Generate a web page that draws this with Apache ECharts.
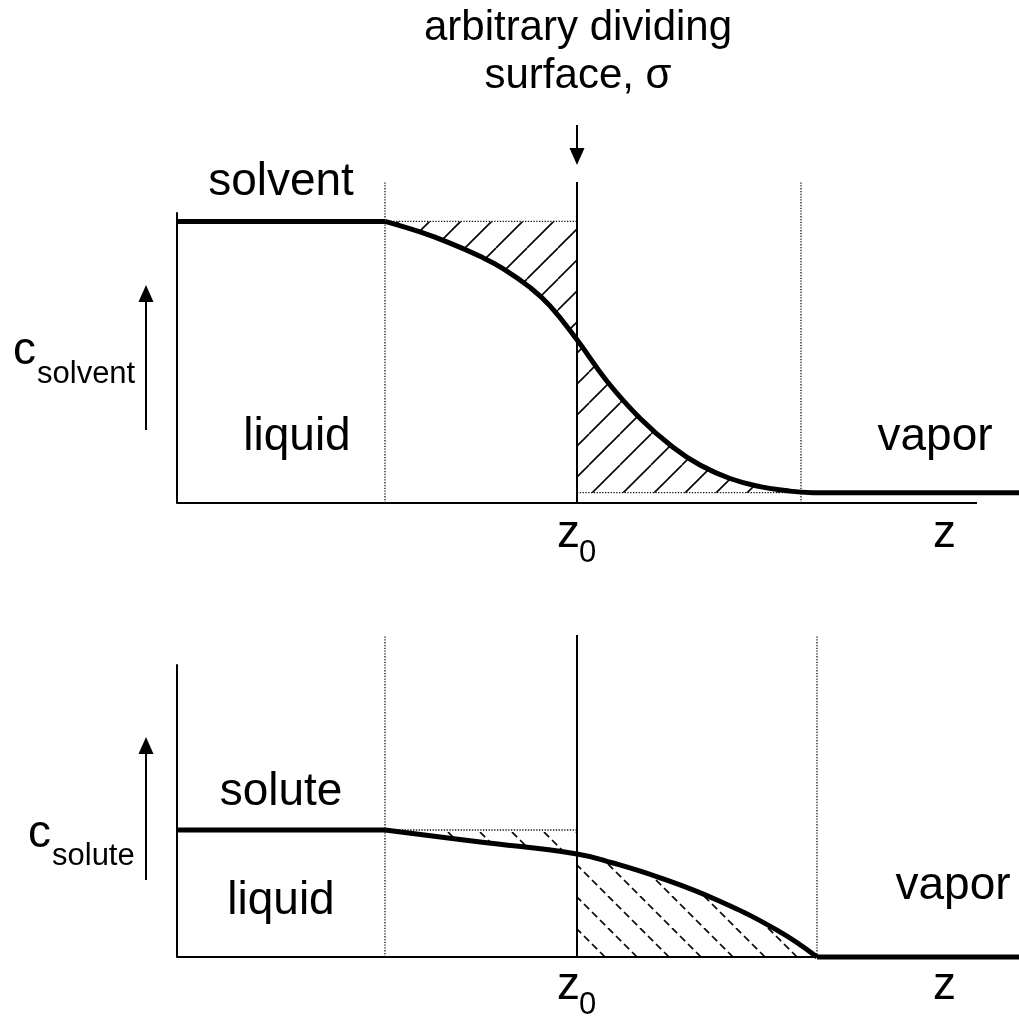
<!DOCTYPE html>
<html><head><meta charset="utf-8">
<script src="https://cdn.jsdelivr.net/npm/echarts@6/dist/echarts.min.js"></script>
<style>html,body{margin:0;padding:0;background:#fff}#c{width:1019px;height:1016px}</style>
</head><body><div id="c"></div>
<script>
// ---- data (z in arbitrary units, concentration in % of axis height) ----
const solventZ = [26, 30.375, 34.125, 37.875, 40.75, 44.125, 46.625, 50, 53.75, 57.875, 62, 65.375, 69.125, 72.875, 76.625, 79.5];
const solventC = [97.1, 93.45, 89.62, 85.07, 80.86, 74.34, 68.0, 56.28, 42.0, 29.24, 19.24, 13.1, 8.45, 5.66, 4.1, 3.55];
const solventLiquid = 97.1;
const solventVapor = 3.55;
const solventInterface = [26, 78];

const soluteZ = [26, 37.9, 50, 54.5, 60.4, 67.5, 75, 80];
const soluteC = [43.5, 39.4, 35.3, 32.2, 27.1, 19.5, 9.2, 0];
const soluteLiquid = 43.5;
const soluteVapor = 0;
const soluteInterface = [26, 80];

const z0 = 50;
const axisEnd = 100;
const zEnd = 105.25;
const lineTop = [110.7, 110.3];

function hatch(size, dir, dashed) {
  const cv = document.createElement('canvas');
  cv.width = size; cv.height = size;
  const g = cv.getContext('2d');
  g.strokeStyle = '#000'; g.lineWidth = 1.6;
  if (dashed) { const d = size * Math.SQRT2 / 4; g.setLineDash([d * 0.64, d * 0.36]); }
  for (let k = -1; k <= 1; k++) {
    g.beginPath();
    if (dir === '/') { g.moveTo(k * size, size); g.lineTo(k * size + size, 0); }
    else { g.moveTo(k * size, 0); g.lineTo(k * size + size, size); }
    g.stroke();
  }
  return cv;
}
const patSolid = { image: hatch(31, '/', false), repeat: 'repeat' };
const patDash = { image: hatch(32, '\\', true), repeat: 'repeat' };

function pairs(xs, ys, from, to) {
  const out = [];
  for (let i = 0; i < xs.length; i++) if (xs[i] >= from && xs[i] <= to) out.push([xs[i], ys[i]]);
  return out;
}

const FONT = '"Liberation Sans", Arial, Helvetica, sans-serif';
const black = '#000';
const dotted = { color: '#111', width: 1.3, type: [1.3, 1.5] };
const SMOOTH = 0.45;

function panelSeries(gi, zs, cs, liquid, vapor, iface, topY, pat) {
  const base = { type: 'line', xAxisIndex: gi, yAxisIndex: gi, symbol: 'none', clip: false, silent: true, animation: false };
  const s = [];
  // hatched excess areas
  s.push(Object.assign({}, base, {
    data: pairs(zs, cs, iface[0], z0), smooth: SMOOTH,
    lineStyle: { width: 0 }, areaStyle: { color: pat, opacity: 1, origin: liquid }
  }));
  s.push(Object.assign({}, base, {
    data: pairs(zs, cs, z0, 200), smooth: SMOOTH,
    lineStyle: { width: 0 }, areaStyle: { color: pat, opacity: 1, origin: vapor }
  }));
  // x axis baseline
  s.push(Object.assign({}, base, { data: [[0, 0], [axisEnd, 0]], lineStyle: { color: black, width: 2 } }));
  // dotted guide lines
  s.push(Object.assign({}, base, { data: [[iface[0], 0], [iface[0], topY]], lineStyle: dotted }));
  s.push(Object.assign({}, base, { data: [[iface[1], 0], [iface[1], topY]], lineStyle: dotted }));
  s.push(Object.assign({}, base, { data: [[iface[0], liquid], [z0, liquid]], lineStyle: dotted }));
  if (vapor > 0) s.push(Object.assign({}, base, { data: [[z0, vapor], [iface[1], vapor]], lineStyle: dotted }));
  // dividing surface
  s.push(Object.assign({}, base, { data: [[z0, 0], [z0, topY]], lineStyle: { color: black, width: 2 } }));
  // concentration profile
  s.push(Object.assign({}, base, { data: [[0, liquid], [zs[0], liquid]], lineStyle: { color: black, width: 5 } }));
  s.push(Object.assign({}, base, { data: zs.map((z, i) => [z, cs[i]]), smooth: SMOOTH, lineStyle: { color: black, width: 5 } }));
  s.push(Object.assign({}, base, { data: [[zs[zs.length - 1], vapor], [zEnd, vapor]], lineStyle: { color: black, width: 5 } }));
  return s;
}

const xCommon = { type: 'value', min: 0, max: zEnd, axisTick: { show: false }, axisLabel: { show: false }, splitLine: { show: false },
  axisLine: { show: false } };
const yCommon = { type: 'value', min: 0, max: 100, axisTick: { show: false }, axisLabel: { show: false }, splitLine: { show: false },
  axisLine: { show: true, lineStyle: { color: black, width: 2 } } };

function txt(text, x, y, size, align) {
  return { type: 'text', x: x, y: y, silent: true,
    style: { text: text, font: size + 'px ' + FONT, fill: black, textAlign: align || 'center', textVerticalAlign: 'middle', align: align || 'center', verticalAlign: 'middle' } };
}
function arrow(x, y1, y2) { // shaft from y1 to tip y2
  const up = y2 < y1, h = 17, w = 7.5;
  const base = up ? y2 + h : y2 - h;
  return [
    { type: 'line', silent: true, shape: { x1: x, y1: y1, x2: x, y2: base }, style: { stroke: black, lineWidth: 2 } },
    { type: 'polygon', silent: true, shape: { points: [[x, y2], [x - w, base], [x + w, base]] }, style: { fill: black } }
  ];
}

const option = {
  backgroundColor: '#fff',
  animation: false,
  grid: [
    { left: 177, top: 213, width: 842, height: 290 },
    { left: 177, top: 665, width: 842, height: 292 }
  ],
  xAxis: [Object.assign({ gridIndex: 0 }, xCommon), Object.assign({ gridIndex: 1 }, xCommon)],
  yAxis: [Object.assign({ gridIndex: 0 }, yCommon), Object.assign({ gridIndex: 1 }, yCommon)],
  series: [].concat(
    panelSeries(0, solventZ, solventC, solventLiquid, solventVapor, solventInterface, lineTop[0], patSolid),
    panelSeries(1, soluteZ, soluteC, soluteLiquid, soluteVapor, soluteInterface, lineTop[1], patDash)
  ),
  graphic: [
    txt('arbitrary dividing', 578, 28, 42),
    txt('surface, σ', 578, 76, 42),
    ...arrow(577, 125, 165),
    txt('solvent', 281, 182, 46),
    txt('liquid', 297, 437, 46),
    txt('vapor', 935, 437, 46),
    txt('c', 13, 351, 46, 'left'),
    txt('solvent', 37, 374, 31, 'left'),
    ...arrow(146, 430, 285),
    txt('z', 557, 534, 46, 'left'),
    txt('0', 579, 553, 31, 'left'),
    txt('z', 933, 534, 46, 'left'),
    txt('solute', 281, 792, 46),
    txt('liquid', 281, 901, 46),
    txt('vapor', 953, 886, 46),
    txt('c', 28, 834, 46, 'left'),
    txt('solute', 52, 856, 31, 'left'),
    ...arrow(146, 880, 737),
    txt('z', 557, 986, 46, 'left'),
    txt('0', 579, 1005, 31, 'left'),
    txt('z', 933, 986, 46, 'left')
  ]
};
echarts.init(document.getElementById('c'), null, { renderer: 'canvas' }).setOption(option);
</script>
</body></html>
